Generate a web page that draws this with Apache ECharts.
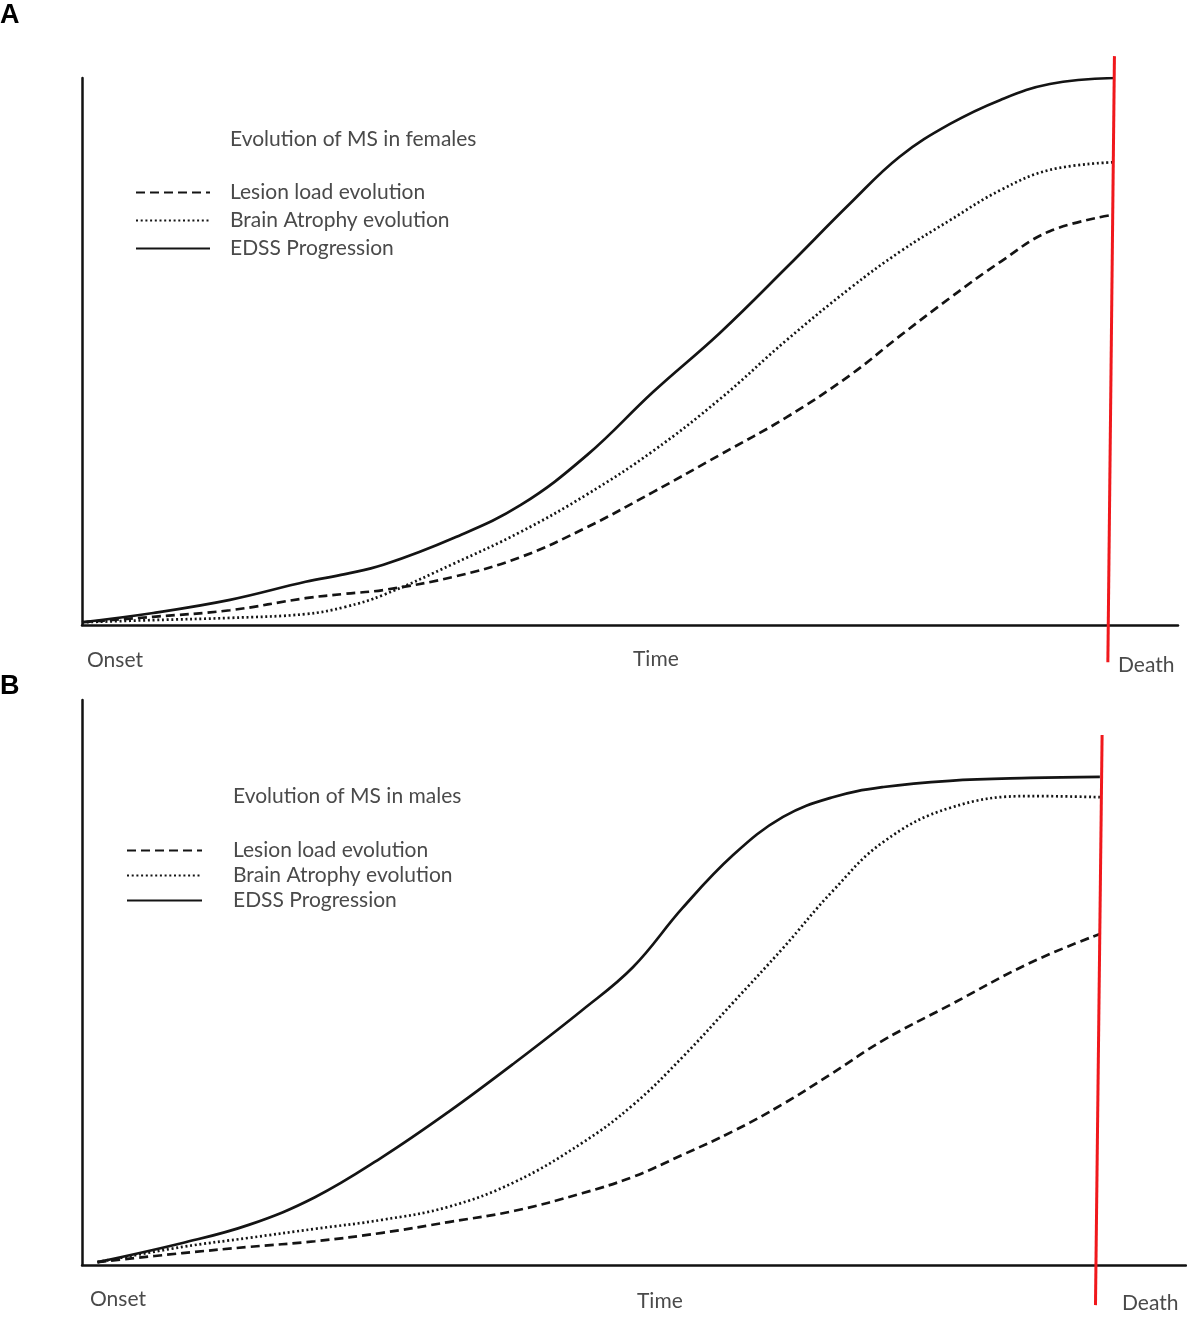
<!DOCTYPE html>
<html>
<head>
<meta charset="utf-8">
<title>Evolution of MS</title>
<script src="https://cdn.jsdelivr.net/npm/echarts@6/dist/echarts.min.js"></script>
<style>
html,body{margin:0;padding:0;background:#fff;}
#chart{width:1187px;height:1318px;}
</style>
</head>
<body>
<div id="chart"></div>
<script>
// A : females  (time 0-100 from onset, level 0-100)
var timeA    = [0, 6.5, 13.5, 20.4, 24.0, 27.5, 33.9, 40.0, 46.1, 52.1, 58.2, 64.3, 70.1, 74.6, 79.2, 83.8, 88.3, 94.1];
var lesionA  = [0.5, 1.5, 2.7, 4.9, 5.7, 6.4, 8.8, 12.4, 17.9, 24.3, 31.1, 38.0, 45.7, 52.8, 59.8, 66.4, 72.0, 75.0];
var atrophyA = [0.5, 0.9, 1.3, 2.0, 3.3, 5.5, 11.2, 17.0, 23.9, 31.8, 41.3, 52.1, 61.6, 68.2, 74.0, 79.5, 83.2, 84.6];
var edssA    = [0.5, 2.2, 4.6, 7.9, 9.3, 11.0, 15.9, 21.9, 31.1, 42.6, 53.4, 65.4, 77.1, 85.6, 91.6, 96.0, 98.9, 100];
var deathTimeA  = [94.2, 93.6];
var deathLevelA = [104, -6.8];

// B : males
var timeB    = [1.4, 9.1, 15.1, 21.1, 27.2, 33.2, 39.2, 45.3, 49.9, 54.4, 59.0, 63.5, 68.0, 72.6, 78.6, 85.9, 92.2];
var lesionB  = [0.5, 2.1, 3.2, 4.2, 5.7, 7.6, 9.6, 12.7, 15.6, 19.5, 23.7, 28.5, 34.0, 39.8, 46.0, 53.5, 58.6];
var atrophyB = [0.5, 3.2, 4.8, 6.4, 8.0, 10.3, 14.7, 21.6, 28.3, 36.8, 46.5, 56.1, 66.2, 74.9, 80.9, 83.0, 82.8];
var edssB    = [0.5, 3.9, 7.1, 12.0, 19.1, 27.1, 35.8, 45.1, 52.7, 63.2, 72.6, 79.3, 82.8, 84.6, 85.7, 86.2, 86.4];
var deathTimeB  = [92.4, 91.8];
var deathLevelB = [93.8, -7.1];

var names = ['Lesion load evolution', 'Brain Atrophy evolution', 'EDSS Progression'];
var dashes = [[9, 5], [2, 2.7], 'solid'];

function zip(xs, ys) {
	var out = [];
	for (var i = 0; i < xs.length; i++) out.push([xs[i], ys[i]]);
	return out;
}

var grey = '#4a4a4a';
var ink = '#141414';
var font = 'Lato';

function curve(name, dash, idx, xs, ys) {
	return {
		name: name,
		type: 'line',
		xAxisIndex: idx,
		yAxisIndex: idx,
		data: zip(xs, ys),
		smooth: 0.4,
		symbol: 'none',
		itemStyle: {color: ink},
		lineStyle: {color: ink, width: 2.7, type: dash}
	};
}

function deathLine(idx, xs, ys) {
	return {
		type: 'line',
		xAxisIndex: idx,
		yAxisIndex: idx,
		data: zip(xs, ys),
		symbol: 'none',
		clip: false,
		z: 5,
		lineStyle: {color: '#f0181c', width: 3}
	};
}

function axis(idx) {
	return {
		type: 'value', gridIndex: idx, min: 0, max: 100,
		axisLine: {show: true, lineStyle: {color: '#111', width: 2.5}},
		axisTick: {show: false}, axisLabel: {show: false}, splitLine: {show: false}
	};
}

function label(text, left, top) {
	return {text: text, left: left, top: top, padding: 0,
		textStyle: {fontFamily: font, fontSize: 21, fontWeight: 'normal', color: grey}};
}

function legend(left, top, width, gap, pad) {
	return {
		data: names, orient: 'vertical', left: left, top: top, padding: 0,
		itemWidth: width, itemHeight: 14, itemGap: gap, selectedMode: false,
		itemStyle: {opacity: 0},
		textStyle: {fontFamily: font, fontSize: 21, lineHeight: 20, color: grey, padding: [0, 0, 0, pad]}
	};
}

var chart = echarts.init(document.getElementById('chart'));
chart.setOption({
	animation: false,
	backgroundColor: '#fff',
	title: [
		{text: 'A', left: 0, top: 2, padding: 0, textStyle: {fontFamily: 'Liberation Sans', fontSize: 27, fontWeight: 'bold', color: '#000'}},
		{text: 'B', left: 0, top: 673, padding: 0, textStyle: {fontFamily: 'Liberation Sans', fontSize: 27, fontWeight: 'bold', color: '#000'}},
		label('Evolution of MS in females', 230, 129),
		label('Evolution of MS in males', 233, 786),
		label('Onset', 87, 650),
		label('Time', 633, 649),
		label('Death', 1118, 655),
		label('Onset', 90, 1289),
		label('Time', 637, 1291),
		label('Death', 1122, 1293)
	],
	legend: [
		legend(135, 182, 74, 7, 15),
		legend(126, 840, 75, 4, 26)
	],
	grid: [
		{left: 82, top: 78, right: 9, height: 547},
		{left: 82, top: 700, right: 1, height: 565}
	],
	xAxis: [axis(0), axis(1)],
	yAxis: [axis(0), axis(1)],
	series: [
		curve(names[0], dashes[0], 0, timeA, lesionA),
		curve(names[1], dashes[1], 0, timeA, atrophyA),
		curve(names[2], dashes[2], 0, timeA, edssA),
		deathLine(0, deathTimeA, deathLevelA),
		curve(names[0], dashes[0], 1, timeB, lesionB),
		curve(names[1], dashes[1], 1, timeB, atrophyB),
		curve(names[2], dashes[2], 1, timeB, edssB),
		deathLine(1, deathTimeB, deathLevelB)
	]
});
</script>
</body>
</html>
